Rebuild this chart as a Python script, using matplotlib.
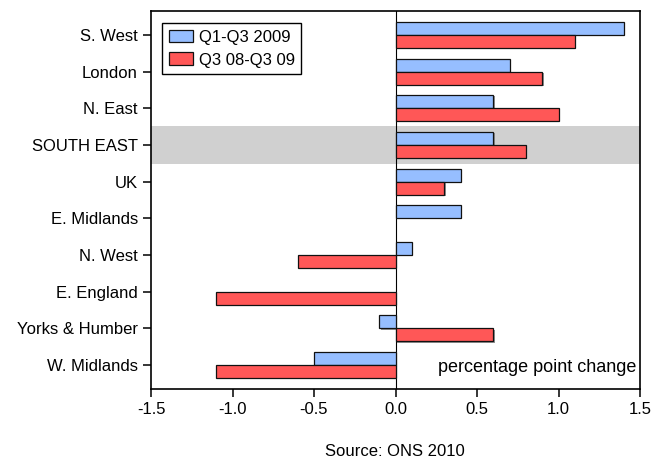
import matplotlib
matplotlib.use("Agg")
import matplotlib.pyplot as plt
import matplotlib.patheffects as pe
import numpy as np

plt.rcParams['font.family'] = ['Liberation Sans', 'DejaVu Sans']

regions = ["S. West", "London", "N. East", "SOUTH EAST", "UK", "E. Midlands",
           "N. West", "E. England", "Yorks & Humber", "W. Midlands"]
q1_q3_2009 = [1.4, 0.7, 0.6, 0.6, 0.4, 0.4, 0.1, 0.0, -0.1, -0.5]
q3_08_q3_09 = [1.1, 0.9, 1.0, 0.8, 0.3, 0.0, -0.6, -1.1, 0.6, -1.1]
xticks = [-1.5, -1.0, -0.5, 0.0, 0.5, 1.0, 1.5]
highlight = "SOUTH EAST"

blue = "#96BEFF"
red = "#FF5757"

W, H = 669, 462
fig = plt.figure(figsize=(W/100, H/100), dpi=100)
L, R, T, B = 151, 640, 11, 389
ax = fig.add_axes([L/W, 1-B/H, (R-L)/W, (B-T)/H])

y = np.arange(len(regions))
h = 0.355
shadow = [pe.SimplePatchShadow(offset=(1.0, -0.8), shadow_rgbFace='#777777', alpha=0.8), pe.Normal()]

hi = regions.index(highlight)
ax.axhspan(hi - 0.52, hi + 0.52, color='#D0D0D0', zorder=0, lw=0)
ax.axvline(0, color='black', lw=0.8, zorder=1)

b1 = ax.barh(y - h/2, q1_q3_2009, height=h, color=blue, edgecolor='#111111', lw=0.9,
             label="Q1-Q3 2009", zorder=3)
b2 = ax.barh(y + h/2, q3_08_q3_09, height=h, color=red, edgecolor='#111111', lw=0.9,
             label="Q3 08-Q3 09", zorder=3)
for b in list(b1) + list(b2):
    if b.get_width() != 0:
        b.set_path_effects(shadow)
    else:
        b.set_visible(False)

ax.set_xlim(-1.5, 1.5)
ax.set_ylim(9.65, -0.65)
ax.set_xticks(xticks)
ax.set_xticklabels([f"{v:.1f}" for v in xticks])
ax.set_yticks(y)
ax.set_yticklabels(regions)
ax.tick_params(axis='both', direction='out', labelsize=12, color='black')
ax.tick_params(axis='x', length=6, width=1.1, pad=3)
ax.tick_params(axis='y', length=6, width=1.1, pad=3.5)
for s in ax.spines.values():
    s.set_linewidth(1.2)

leg = ax.legend(loc='upper left', bbox_to_anchor=(11/489, 1-12/378), fontsize=12,
                frameon=True, fancybox=False, edgecolor='black', framealpha=1,
                handlelength=1.45, handleheight=0.8, handletextpad=0.35,
                borderpad=0.4, labelspacing=0.45, borderaxespad=0)
leg.get_frame().set_linewidth(1.0)
for p in leg.get_patches():
    p.set_path_effects([])
    p.set_edgecolor('#111111')

ax.text(0.992, 0.035, "percentage point change", transform=ax.transAxes,
        ha='right', va='bottom', fontsize=13)
fig.text(395/W, 1-452/H, "Source: ONS 2010", ha='center', va='center', fontsize=12)

fig.savefig("out.png", dpi=100)
